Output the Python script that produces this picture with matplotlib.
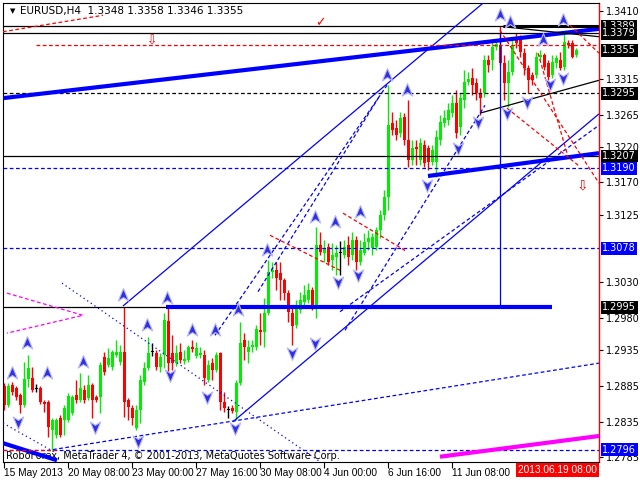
import matplotlib
matplotlib.use("Agg")
import matplotlib.pyplot as plt
from matplotlib.path import Path

# EURUSD H4 candles
opens = [
    1.2885, 1.2858, 1.2886, 1.2882, 1.2872, 1.2858, 1.2895, 1.2896, 1.2881, 1.2882,
    1.2863, 1.2863, 1.2823, 1.2816, 1.2840, 1.2837, 1.2837, 1.2847, 1.2872, 1.2865,
    1.2879, 1.2868, 1.2886, 1.2870, 1.2870, 1.2926, 1.2914, 1.2912, 1.2928, 1.2919,
    1.2933, 1.2865, 1.2854, 1.2826, 1.2851, 1.2891, 1.2910, 1.2933, 1.2931, 1.2912,
    1.2928, 1.2976, 1.2931, 1.2917, 1.2933, 1.2920, 1.2921, 1.2940, 1.2927, 1.2928,
    1.2928, 1.2893, 1.2917, 1.2907, 1.2931, 1.2863, 1.2851, 1.2854, 1.2849, 1.2889,
    1.2949, 1.2933, 1.2940, 1.2940, 1.2963, 1.2961, 1.2987, 1.3045, 1.3047, 1.3043,
    1.3033, 1.3015, 1.2987, 1.2970, 1.2991, 1.3003, 1.3005, 1.3019, 1.2994, 1.3082,
    1.3071, 1.3080, 1.3061, 1.3066, 1.3071, 1.3068, 1.3082, 1.3068, 1.3089, 1.3059,
    1.3071, 1.3087, 1.3078, 1.3080, 1.3103, 1.3124, 1.3150, 1.3253, 1.3246, 1.3239,
    1.3262, 1.3229, 1.3201, 1.3220, 1.3201, 1.3222, 1.3218, 1.3199, 1.3199, 1.3229,
    1.3253, 1.3257, 1.3267, 1.3281, 1.3248, 1.3285, 1.3311, 1.3316, 1.3309, 1.3295,
    1.3295, 1.3341, 1.3341, 1.3360, 1.3362, 1.3337, 1.3309, 1.3325, 1.3374, 1.3372,
    1.3351, 1.3330, 1.3320, 1.3320, 1.3346, 1.3348, 1.3337, 1.3320, 1.3337, 1.3341,
    1.3332, 1.3365, 1.3365, 1.3348]
closes = [
    1.2858, 1.2885, 1.2877, 1.2870, 1.2858, 1.2895, 1.2910, 1.2879, 1.2881, 1.2863,
    1.2860, 1.2828, 1.2837, 1.2837, 1.2816, 1.2854, 1.2871, 1.2870, 1.2865, 1.2882,
    1.2865, 1.2886, 1.2865, 1.2865, 1.2914, 1.2905, 1.2924, 1.2933, 1.2933, 1.2933,
    1.2863, 1.2856, 1.2840, 1.2851, 1.2893, 1.2910, 1.2931, 1.2933, 1.2912, 1.2926,
    1.2977, 1.2917, 1.2917, 1.2931, 1.2921, 1.2923, 1.2940, 1.2937, 1.2938, 1.2931,
    1.2896, 1.2914, 1.2907, 1.2928, 1.2863, 1.2854, 1.2851, 1.2850, 1.2889, 1.2945,
    1.2940, 1.2940, 1.2942, 1.2965, 1.2961, 1.2987, 1.3045, 1.3047, 1.3036, 1.3033,
    1.3015, 1.2989, 1.2969, 1.2998, 1.3005, 1.3012, 1.3019, 1.2996, 1.3082, 1.3073,
    1.3078, 1.3059, 1.3068, 1.3071, 1.3071, 1.3080, 1.3066, 1.3089, 1.3059, 1.3075,
    1.3087, 1.3092, 1.3094, 1.3103, 1.3124, 1.3150, 1.3250, 1.3243, 1.3236, 1.3260,
    1.3229, 1.3201, 1.3218, 1.3217, 1.3225, 1.3197, 1.3199, 1.3215, 1.3234, 1.3255,
    1.3260, 1.3271, 1.3281, 1.3239, 1.3288, 1.3311, 1.3315, 1.3306, 1.3295, 1.3288,
    1.3341, 1.3334, 1.3360, 1.3364, 1.3337, 1.3309, 1.3325, 1.3362, 1.3365, 1.3353,
    1.3330, 1.3313, 1.3313, 1.3346, 1.3348, 1.3332, 1.3318, 1.3339, 1.3344, 1.3330,
    1.3367, 1.3362, 1.3346, 1.3355]
highs = [
    1.2889, 1.2889, 1.2891, 1.2885, 1.2875, 1.2919, 1.2928, 1.2912, 1.2888, 1.2885,
    1.2865, 1.2865, 1.2840, 1.2840, 1.2844, 1.2858, 1.2875, 1.2872, 1.2893, 1.2903,
    1.2886, 1.2900, 1.2889, 1.2872, 1.2919, 1.2933, 1.2938, 1.2935, 1.2949, 1.2942,
    1.2996, 1.2868, 1.2858, 1.2858, 1.2900, 1.2919, 1.2954, 1.2945, 1.2935, 1.2931,
    1.2987, 1.2994, 1.2956, 1.2942, 1.2945, 1.2935, 1.2942, 1.2949, 1.2947, 1.2940,
    1.2935, 1.2921, 1.2924, 1.2933, 1.2933, 1.2877, 1.2857, 1.2858, 1.2893, 1.2975,
    1.2959, 1.2949, 1.2949, 1.2970, 1.2987, 1.3008, 1.3061, 1.3059, 1.3059, 1.3059,
    1.3036, 1.3019, 1.2998, 1.3005, 1.3017, 1.3026, 1.3029, 1.3024, 1.3108, 1.3101,
    1.3089, 1.3085, 1.3085, 1.3082, 1.3088, 1.3089, 1.3095, 1.3101, 1.3095, 1.3089,
    1.3099, 1.3103, 1.3099, 1.3108, 1.3131, 1.3159, 1.3306, 1.3269, 1.3257, 1.3269,
    1.3267, 1.3285, 1.3229, 1.3229, 1.3232, 1.3229, 1.3222, 1.3222, 1.3243, 1.3264,
    1.3271, 1.3281, 1.3292, 1.3299, 1.3295, 1.3327, 1.3325, 1.3330, 1.3316, 1.3302,
    1.3348, 1.3348, 1.3369, 1.3369, 1.3389, 1.3348, 1.3341, 1.3369, 1.3379, 1.3376,
    1.3358, 1.3334, 1.3325, 1.3353, 1.3355, 1.3351, 1.3341, 1.3348, 1.3348, 1.3353,
    1.3381, 1.3369, 1.3369, 1.3358]
lows = [
    1.2851, 1.2856, 1.2872, 1.2865, 1.2847, 1.2856, 1.2884, 1.2877, 1.2877, 1.2860,
    1.2849, 1.2814, 1.2795, 1.2812, 1.2814, 1.2816, 1.2835, 1.2844, 1.2861, 1.2863,
    1.2861, 1.2865, 1.2840, 1.2863, 1.2847, 1.2900, 1.2912, 1.2907, 1.2926, 1.2914,
    1.2842, 1.2837, 1.2830, 1.2823, 1.2833, 1.2886, 1.2907, 1.2927, 1.2907, 1.2905,
    1.2910, 1.2903, 1.2907, 1.2913, 1.2917, 1.2916, 1.2919, 1.2933, 1.2924, 1.2924,
    1.2886, 1.2891, 1.2893, 1.2905, 1.2851, 1.2849, 1.2840, 1.2847, 1.2837, 1.2886,
    1.2921, 1.2917, 1.2933, 1.2935, 1.2942, 1.2940, 1.2984, 1.3036, 1.3019, 1.3005,
    1.3005, 1.2975, 1.2942, 1.2966, 1.2987, 1.2998, 1.3001, 1.2991, 1.2980, 1.3068,
    1.3059, 1.3054, 1.3047, 1.3040, 1.3040, 1.3064, 1.3054, 1.3061, 1.3047, 1.3054,
    1.3068, 1.3075, 1.3068, 1.3075, 1.3092, 1.3117, 1.3131, 1.3236, 1.3229, 1.3234,
    1.3222, 1.3192, 1.3194, 1.3194, 1.3194, 1.3192, 1.3187, 1.3194, 1.3178, 1.3222,
    1.3248, 1.3250, 1.3262, 1.3232, 1.3236, 1.3274, 1.3306, 1.3292, 1.3285, 1.3264,
    1.3290, 1.3325, 1.3327, 1.3355, 1.3334, 1.3285, 1.3276, 1.3320, 1.3358, 1.3346,
    1.3320, 1.3295, 1.3306, 1.3316, 1.3341, 1.3327, 1.3313, 1.3316, 1.3330, 1.3327,
    1.3327, 1.3358, 1.3344, 1.3346]

xtick_bars = [0, 16, 32, 48, 64, 80, 96, 112, 128]
xtick_labels = ["15 May 2013", "20 May 08:00", "23 May 00:00", "27 May 16:00", "30 May 08:00",
                "4 Jun 00:00", "6 Jun 16:00", "11 Jun 08:00", "14 Jun 00:00"]
ytick_vals = [1.3410, 1.3315, 1.3265, 1.3220, 1.3170, 1.3125, 1.3030,
              1.2980, 1.2935, 1.2885, 1.2835, 1.2785]

# price boxes on the right axis: (price, background)
price_boxes = [(1.3389, "black"), (1.3379, "black"), (1.3355, "black"), (1.3295, "black"),
               (1.3207, "black"), (1.3190, "#0000ff"), (1.3078, "#0000ff"),
               (1.2995, "black"), (1.2796, "#0000ff")]

# drawn objects: (bar0, price0, bar1, price1)
thick_blue = [(-0.25, 1.3288, 148.75, 1.3385), (106, 1.3179, 148.75, 1.3211),
              (-0.25, 1.2805, 13.25, 1.2781), (40.5, 1.2995, 137, 1.2995)]
thin_black = [(119, 1.3267, 148.75, 1.3313), (124.75, 1.3388, 148.75, 1.3374),
              (-0.25, 1.2995, 40.5, 1.2995)]
thin_blue = [(29.75, 1.2997, 119.75, 1.3421), (57.25, 1.2835, 148.75, 1.3266),
             (124, 1.3379, 124, 1.2998)]
blue_dashed = [(12.25, 1.2796, 148.75, 1.2917), (52.75, 1.2956, 95.75, 1.3306),
               (85.25, 1.2963, 120.25, 1.3278), (84, 1.2989, 148.75, 1.3250),
               (63.5, 1.3017, 94, 1.3292)]
blue_dotted = [(14.5, 1.3029, 79, 1.2779), (-0.25, 1.2833, 12.75, 1.2792)]
red_dashed = [(-0.25, 1.3381, 24.75, 1.3404), (66.5, 1.3096, 84, 1.3047),
              (84.75, 1.3127, 100.75, 1.3073), (124, 1.3383, 148.75, 1.3169),
              (133.5, 1.3351, 140.75, 1.3211), (125.75, 1.3274, 144, 1.3192),
              (141.5, 1.3390, 148.75, 1.3351), (8, 1.3362, 148.75, 1.3362),
              (-0.25, 1.2796, 13, 1.2796)]
magenta_thick = [(109, 1.2786, 148.75, 1.2815)]
magenta_bars = [0.75, 19.75, 0.75]
magenta_prices = [1.3015, 1.2984, 1.2959]
hl_black = [1.3389, 1.3379, 1.3207]
hl_black_dashed = [1.3295]
hl_blue_dashed = [1.3190, 1.3078, 1.2796]

up_bars = [2, 5.75, 10.75, 19.75, 29.75, 35.75, 40.75, 47, 52.75, 58.5, 65.75, 77.75,
           82.75, 89, 95.75, 100.75, 124, 126.5, 134.75, 139.75]
up_prices = [1.2903, 1.2945, 1.2903, 1.2919, 1.3012, 1.2970, 1.3008, 1.2963, 1.2963, 1.2991,
             1.3075, 1.3121, 1.3114, 1.3128, 1.3320, 1.3299, 1.3404, 1.3395, 1.3369, 1.3397]
down_bars = [3.5, 22.75, 33.5, 41.5, 50.75, 57.75, 72, 77.75, 83.5, 88.5, 105.75, 113.5,
             118.5, 125.75, 130.75, 136.5, 139.75]
down_prices = [1.2835, 1.2828, 1.2808, 1.2900, 1.2870, 1.2826, 1.2931, 1.2945, 1.3031, 1.3040,
               1.3166, 1.3218, 1.3255, 1.3267, 1.3283, 1.3308, 1.3316]

fig = plt.figure(figsize=(6.4, 4.8), dpi=100)
ax = fig.add_axes([3 / 640, 18 / 480, 596 / 640, 459 / 480])
ax.set_xlim(-0.25, 148.75)
ax.set_ylim(1.27786, 1.34212)

# candles
idx = list(range(len(opens)))
colors = []
bottoms = []
heights = []
for o, c in zip(opens, closes):
    if c > o:
        colors.append("#00ee00")
    elif c < o:
        colors.append("#ff0000")
    else:
        colors.append("black")
    bottoms.append(min(o, c))
    heights.append(max(abs(c - o), 0.00012))
ax.vlines(idx, lows, highs, colors=colors, lw=1, zorder=2)
ax.bar(idx, heights, bottom=bottoms, width=0.75, color=colors, linewidth=0, zorder=2)

# horizontal levels
for p in hl_black:
    ax.axhline(p, color="black", lw=0.9, zorder=3)
for p in hl_black_dashed:
    ax.axhline(p, color="black", lw=0.9, ls=(0, (3, 2)), zorder=3)
for p in hl_blue_dashed:
    ax.axhline(p, color="#0000ff", lw=0.9, ls=(0, (3, 2)), zorder=3)


def draw(segs, **kw):
    for b0, p0, b1, p1 in segs:
        ax.plot([b0, b1], [p0, p1], zorder=3, solid_capstyle="butt", **kw)


draw(thick_blue, color="#0000ff", lw=3)
draw(magenta_thick, color="#ff00ff", lw=3)
draw([(124.75, 1.3389, 148.75, 1.3389)], color="black", lw=2.2)
draw(thin_black, color="black", lw=0.9)
draw(thin_blue, color="#0000ff", lw=0.9)
draw(blue_dashed, color="#0000ff", lw=0.9, ls=(0, (3, 2)))
draw(blue_dotted, color="#0000ff", lw=0.9, ls=(0, (1, 2.5)))
draw(red_dashed, color="#ff0000", lw=0.9, ls=(0, (3, 2)))
ax.plot(magenta_bars, magenta_prices, color="#ff00ff", lw=0.9, ls=(0, (3, 2)), zorder=3)

# arrow marks
up_path = Path([(0, 1), (0.75, -0.8), (0, -0.3), (-0.75, -0.8), (0, 1)],
               [Path.MOVETO, Path.LINETO, Path.LINETO, Path.LINETO, Path.CLOSEPOLY])
down_path = Path([(0, -1), (0.75, 0.8), (0, 0.3), (-0.75, 0.8), (0, -1)],
                 [Path.MOVETO, Path.LINETO, Path.LINETO, Path.LINETO, Path.CLOSEPOLY])
ax.plot(up_bars, up_prices, ls="none", marker=up_path, ms=10, mfc="#3030e0",
        mec="#b8b8ff", mew=0.8, zorder=4)
ax.plot(down_bars, down_prices, ls="none", marker=down_path, ms=10, mfc="#3030e0",
        mec="#b8b8ff", mew=0.8, zorder=4)

ax.text(79, 1.3393, "\u2713", color="#ff0000", fontsize=9, ha="center", va="center", zorder=4)
ax.text(37, 1.3368, "\u21e9", color="#ff0000", fontsize=9, ha="center", va="center", zorder=4)
ax.text(144.5, 1.3166, "\u21e9", color="#ff0000", fontsize=10, ha="center", va="center", zorder=4)

# axes styling
for s in ["left", "top", "bottom"]:
    ax.spines[s].set_color("black")
    ax.spines[s].set_linewidth(0.8)
ax.spines["right"].set_color("#ff0000")
ax.spines["right"].set_linewidth(1)

ax.yaxis.tick_right()
ax.set_yticks(ytick_vals)
ax.set_yticklabels([f"{v:.4f}" for v in ytick_vals])
ax.tick_params(axis="y", length=3, width=0.8, labelsize=7, pad=2)
ax.set_xticks(xtick_bars)
ax.set_xticklabels(xtick_labels)
ax.tick_params(axis="x", length=4, width=0.8, labelsize=7, pad=0)
for lab in ax.get_xticklabels():
    lab.set_ha("left")
    lab.set_family("Liberation Sans")
    lab.set_fontsize(7.3)

ytr = ax.get_yaxis_transform()
for p, bg in price_boxes:
    ax.text(1.0055, p, f"{p:.4f}", transform=ytr, color="white", fontsize=7,
            ha="left", va="center", clip_on=False, zorder=6,
            bbox=dict(boxstyle="square,pad=0.15", fc=bg, ec="none"))

fig.text(597 / 640, 1 - 470 / 480, "2013.06.19 08:00", color="white", fontsize=7.3,
         family="Liberation Sans", ha="right", va="center",
         bbox=dict(boxstyle="square,pad=0.2", fc="#ff0000", ec="none"))

ax.text(1.5, 1.3410, "\u25bc", fontsize=5, ha="left", va="center", zorder=6)
ax.text(4.0, 1.3410, "EURUSD,H4  1.3348 1.3358 1.3346 1.3355", fontsize=7.5,
        ha="left", va="center", zorder=6)
ax.text(0.5, 1.2787, "RoboForex, MetaTrader 4, \u00a9 2001-2013, MetaQuotes Software Corp.",
        fontsize=7, ha="left", va="center", zorder=1)

fig.savefig("out.png", dpi=100, facecolor="white")
